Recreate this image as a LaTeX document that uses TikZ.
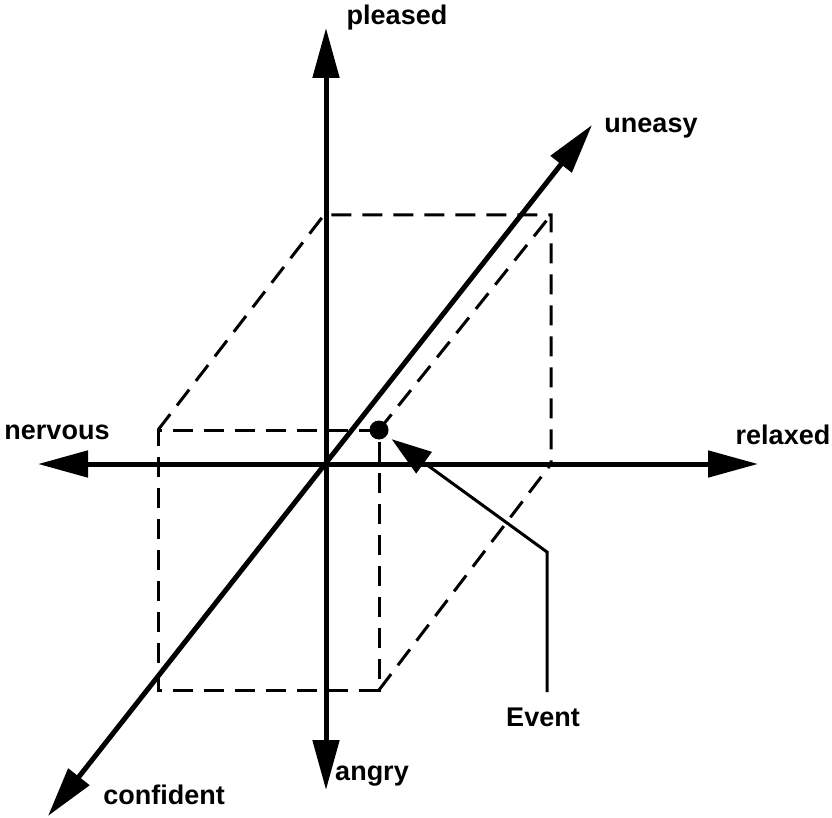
\documentclass[tikz,border=0pt]{standalone}
\usepackage{fontspec}
\setmainfont{Liberation Sans}
\usetikzlibrary{arrows.meta}

\begin{document}
\begin{tikzpicture}[x=1pt, y=-1pt, >={Triangle[length=50pt,width=26pt]}]
    \tikzstyle{lbl}=[font=\fontsize{27}{30}\selectfont\bfseries, inner sep=0pt]
    \tikzstyle{axis}=[line width=5pt, <->]
    \tikzstyle{edge}=[line width=3pt, dash pattern=on 20pt off 11pt]
    \useasboundingbox (0,0) rectangle (832,818);
    % axes
    \coordinate (o) at (326,464);
    \coordinate (nerv) at (38,464); \coordinate (rel) at (758,464);
    \coordinate (plea) at (326,28); \coordinate (ang) at (326,790);
    \coordinate (conf) at (48,816); \coordinate (unea) at (592,125);
    \draw[axis] (nerv) -- (rel);
    \draw[axis] (plea) -- (ang);
    \draw[axis] (conf) -- (unea);
    \node[lbl] (pleased) at (397,18) {pleased};
    \node[lbl] (uneasy) at (651,128) {uneasy};
    \node[lbl] (nervous) at (57,432) {nervous};
    \node[lbl] (relaxed) at (783,435) {relaxed};
    \node[lbl] (confident) at (164,795) {confident};
    \node[lbl] (angry) at (372,776) {angry};
    % dashed box
    \coordinate (f1) at (158,430); \coordinate (f2) at (379,430);
    \coordinate (f3) at (379,690); \coordinate (f4) at (158,690);
    \coordinate (b1) at (324,215); \coordinate (b2) at (551,215);
    \coordinate (b3) at (551,464);
    \draw[edge] (f2) -- (f1) -- (f4) -- (f3) -- (f2);
    \draw[edge] (f1) -- (b1) -- (b2) -- (b3);
    \draw[edge] (f2) -- (b2);
    \draw[edge] (f3) -- (b3);
    % event
    \node[circle, fill=black, inner sep=0pt, minimum size=19pt] (ev) at (f2) {};
    \node[lbl] (event) at (543,717) {Event};
    \coordinate (evtop) at (547,692); \coordinate (bend) at (547,552);
    \draw[line width=3pt, -{Triangle[length=40pt,width=26pt]}, shorten >=6pt]
      (evtop) -- (bend) -- (ev);
\end{tikzpicture}
\end{document}
